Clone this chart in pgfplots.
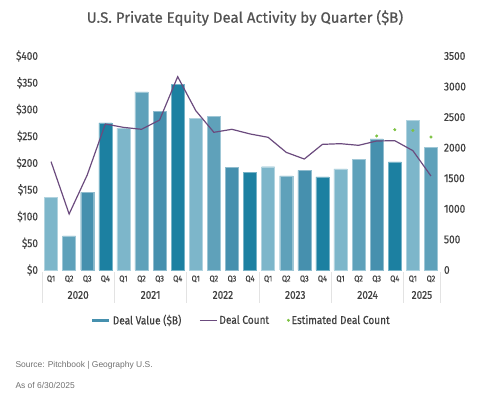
\documentclass[border=0pt]{standalone}
\usepackage{pgfplots}
\pgfplotsset{compat=1.18}
\usepackage{fontspec}
\setmainfont{Fira Sans}[FakeStretch=0.88, FakeBold=0.6]
\newfontfamily\titlefont{Fira Sans}[FakeBold=0.6]
\newfontfamily\srcfont{Liberation Sans}
\definecolor{qa}{HTML}{7DB6CA}
\definecolor{qb}{HTML}{5FA1BA}
\definecolor{qc}{HTML}{4690AE}
\definecolor{qd}{HTML}{1C80A1}
\definecolor{dc}{HTML}{6B4B7E}
\definecolor{est}{HTML}{7DC242}
\definecolor{txt}{HTML}{404040}
\definecolor{sep}{HTML}{E3E3E3}
\begin{document}
\begin{tikzpicture}
\path[use as bounding box] (0,0) rectangle (496bp,400bp);
\node[text=txt!90, font=\titlefont\fontsize{15}{15}\selectfont] at (245bp,382bp) {U.S. Private Equity Deal Activity by Quarter (\$B)};
\begin{axis}[
  at={(42bp,130bp)}, anchor=south west,
  scale only axis, width=398bp, height=214bp,
  xmin=-0.5, xmax=21.5, ymin=0, ymax=400,
  axis line style={draw=none},
  major tick length=0pt,
  xtick={0,...,21},
  xticklabels={Q1,Q2,Q3,Q4,Q1,Q2,Q3,Q4,Q1,Q2,Q3,Q4,Q1,Q2,Q3,Q4,Q1,Q2,Q3,Q4,Q1,Q2},
  xticklabel style={font=\fontsize{8.5}{8.5}\selectfont, text=txt, yshift=-2bp},
  ytick={0,50,...,400},
  yticklabels={\$0,\$50,\$100,\$150,\$200,\$250,\$300,\$350,\$400},
  yticklabel style={font=\fontsize{11.5}{11.5}\selectfont, text=txt, xshift=-0.5bp},
  clip=false,
]
\addplot[ybar, bar width=0.72, bar shift=0pt, fill=qa, draw=qa!60!white] coordinates {(0,136) (4,265) (8,283) (12,193) (16,189) (20,280)};
\addplot[ybar, bar width=0.72, bar shift=0pt, fill=qb, draw=qb!60!white] coordinates {(1,64) (5,333) (9,287) (13,176) (17,207) (21,229)};
\addplot[ybar, bar width=0.72, bar shift=0pt, fill=qc, draw=qc!60!white] coordinates {(2,145) (6,297) (10,192) (14,186) (18,245)};
\addplot[ybar, bar width=0.72, bar shift=0pt, fill=qd, draw=qd!60!white] coordinates {(3,275) (7,347) (11,183) (15,174) (19,202)};
\pgfplotsinvokeforeach{-0.5,3.5,7.5,11.5,15.5,19.5,21.5}{
  \draw[sep, line width=0.8pt] ([yshift=-2bp]axis cs:#1,0) -- ([yshift=-33bp]axis cs:#1,0);
}
\node[text=txt, font=\fontsize{11.5}{11.5}\selectfont] at ([yshift=-25bp]axis cs:1.5,0) {2020};
\node[text=txt, font=\fontsize{11.5}{11.5}\selectfont] at ([yshift=-25bp]axis cs:5.5,0) {2021};
\node[text=txt, font=\fontsize{11.5}{11.5}\selectfont] at ([yshift=-25bp]axis cs:9.5,0) {2022};
\node[text=txt, font=\fontsize{11.5}{11.5}\selectfont] at ([yshift=-25bp]axis cs:13.5,0) {2023};
\node[text=txt, font=\fontsize{11.5}{11.5}\selectfont] at ([yshift=-25bp]axis cs:17.5,0) {2024};
\node[text=txt, font=\fontsize{11.5}{11.5}\selectfont] at ([yshift=-25bp]axis cs:20.5,0) {2025};
\end{axis}
\begin{axis}[
  at={(42bp,130bp)}, anchor=south west,
  scale only axis, width=398bp, height=214bp,
  xmin=-0.5, xmax=21.5, ymin=0, ymax=3500,
  axis line style={draw=none},
  major tick length=0pt,
  xtick=\empty,
  axis y line*=right,
  ytick={0,500,...,3500},
  yticklabels={0,500,1000,1500,2000,2500,3000,3500},
  yticklabel style={font=\fontsize{11.5}{11.5}\selectfont, text=txt, xshift=0.5bp},
  legend style={at={(0.5,-0.235)}, anchor=center, draw=none, fill=none,
    legend columns=3, font=\fontsize{11.5}{11.5}\selectfont, text=txt,
    /tikz/every even column/.append style={column sep=16bp}},
  legend cell align=left,
  clip=false,
]
\addlegendimage{line width=3.5pt, color=qc}
\addlegendentry{Deal Value (\$B)}
\addplot[color=dc, line width=1.2pt, mark=none] coordinates {
(0,1772) (1,916) (2,1554) (3,2388) (4,2333) (5,2301) (6,2453) (7,3162)
(8,2606) (9,2252) (10,2301) (11,2225) (12,2170) (13,1924) (14,1815) (15,2055)
(16,2066) (17,2039) (18,2110) (19,2115) (20,1952) (21,1537)};
\addlegendentry{Deal Count}
\addplot[only marks, mark=*, mark size=1.3pt, color=est] coordinates {
(18,2192) (19,2295) (20,2284) (21,2175)};
\addlegendentry{Estimated Deal Count}
\end{axis}
\node[anchor=west, text=txt!75, font=\srcfont\fontsize{8.5}{8.5}\selectfont] at (12bp,35bp) {Source: Pitchbook | Geography U.S.};
\node[anchor=west, text=txt!75, font=\srcfont\fontsize{8.5}{8.5}\selectfont] at (12bp,15bp) {As of 6/30/2025};
\end{tikzpicture}
\end{document}
